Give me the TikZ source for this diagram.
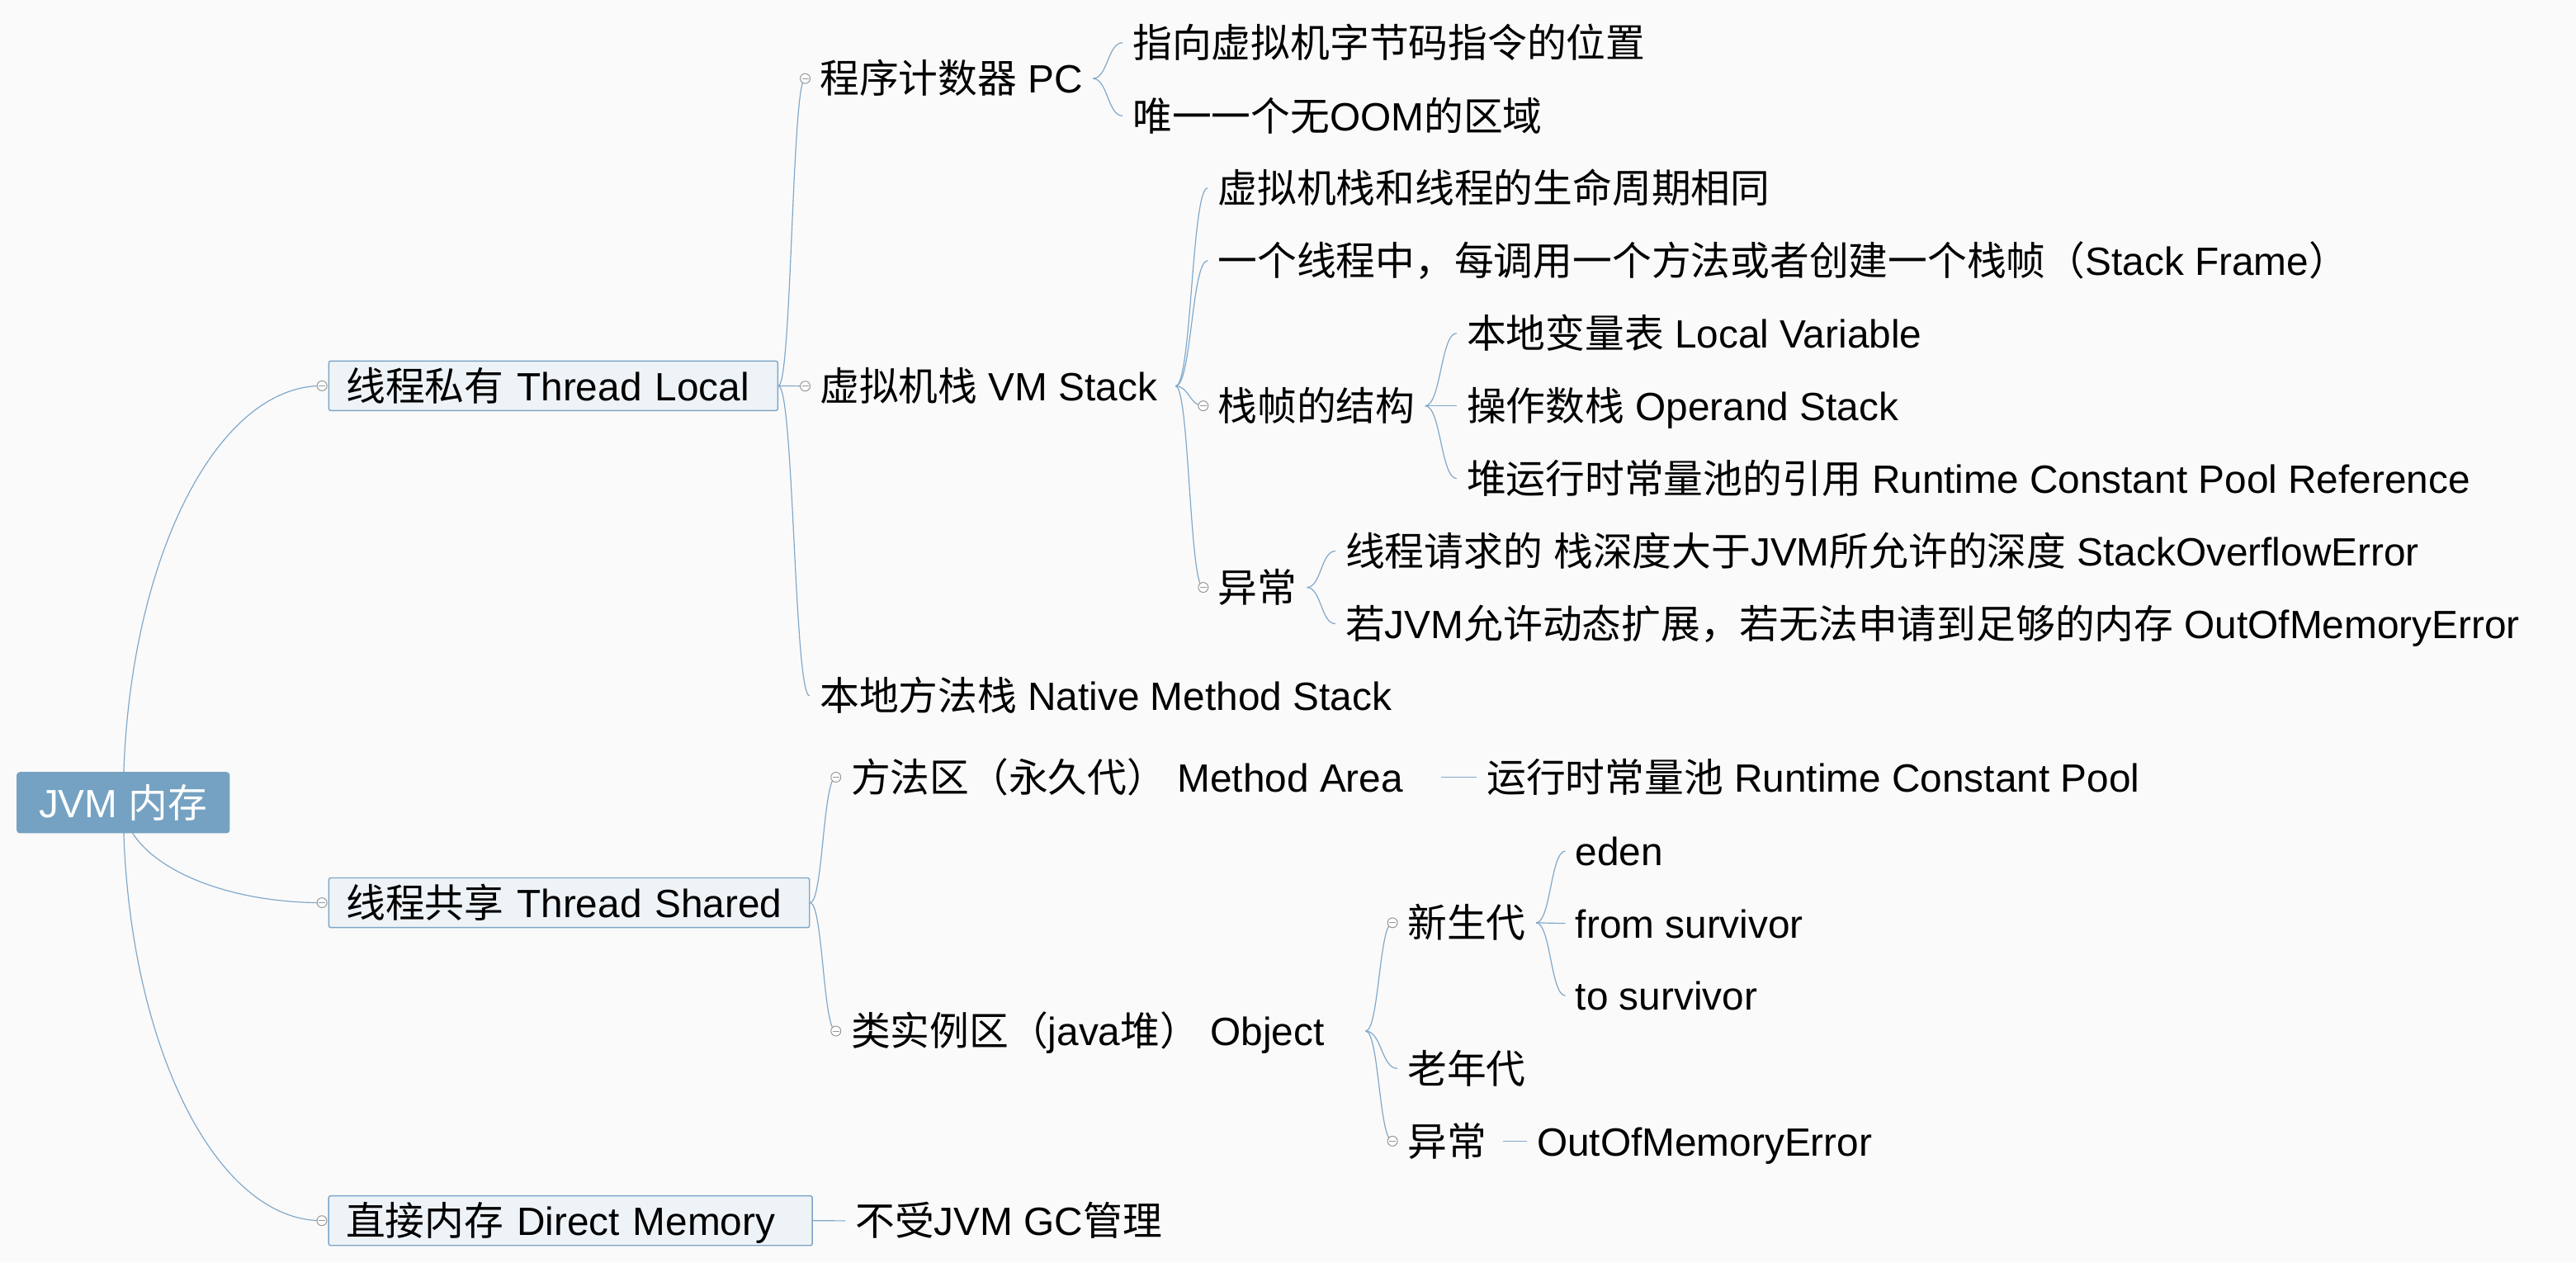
\documentclass[tikz,border=0pt]{standalone}
\usepackage{fontspec}
\setmainfont{Liberation Sans}
\newfontfamily\cjkf{Noto Sans CJK SC}
\usetikzlibrary{calc}
\newcommand\zh[1]{{\cjkf #1}}
\definecolor{bgc}{RGB}{250,250,250}
\definecolor{linec}{RGB}{128,168,202}
\definecolor{rootc}{RGB}{117,162,194}
\definecolor{boxf}{RGB}{238,243,247}
\definecolor{boxd}{RGB}{125,164,198}
\definecolor{circd}{RGB}{150,150,150}
\pgfdeclarelayer{back}
\pgfdeclarelayer{edges}
\pgfsetlayers{back,edges,main}
\tikzset{
  mmfont/.style={font=\fontsize{24}{28}\selectfont},
  txt/.style={mmfont, anchor=west, inner xsep=6pt, inner ysep=0pt, text height=21.8pt, text depth=4pt},
  branchbox/.style={mmfont, draw=boxd, fill=boxf, line width=0.7pt, rounded corners=1.2pt, anchor=west,
    inner xsep=10.5pt, inner ysep=0pt, minimum height=30.2pt, text height=21.8pt, text depth=4pt, align=left},
  rootbox/.style={mmfont, fill=rootc, text=white, rounded corners=2pt, minimum width=129.8pt,
    minimum height=37.3pt, inner sep=0pt, text height=21.8pt, text depth=4pt},
  collapse/.style={circle, draw=circd, fill=white, line width=0.5pt, minimum size=6pt, inner sep=0pt,
    path picture={\draw[circd, line width=0.5pt] ([xshift=-2pt]path picture bounding box.center) -- ([xshift=2pt]path picture bounding box.center);}},
  conn/.style={draw=linec, line width=0.6pt},
  ell/.style={to path={.. controls ($(\tikztostart)!0.552!(\tikztostart|-\tikztotarget)$) and ($(\tikztotarget)!0.552!(\tikztostart|-\tikztotarget)$) .. (\tikztotarget)}},
  sc/.style={to path={.. controls ($(\tikztostart)!0.5!(\tikztostart-|\tikztotarget)$) and ($(\tikztotarget)!0.5!(\tikztotarget-|\tikztostart)$) .. (\tikztotarget)}},
}
\begin{document}
\begin{tikzpicture}[x=1pt,y=-1pt]
\useasboundingbox (0,0) rectangle (1568,768.2);
\begin{pgfonlayer}{back}
\fill[bgc] (0,0) rectangle (1568,768.2);
\end{pgfonlayer}

% root
\node[rootbox] (root) at (75,488.5) {JVM \zh{内存}};

% level 1
\node[branchbox, text width=252.3pt] (tl) at (199.8,234.8) {\zh{线程私有} Thread Local};
\node[branchbox, text width=271.6pt] (ts) at (199.8,549.4) {\zh{线程共享} Thread Shared};
\node[branchbox, text width=273.4pt] (dm) at (199.7,742.9) {\zh{直接内存} Direct Memory};

% thread local subtree
\node[txt] (pc) at (492.8,47.8) {\zh{程序计数器} PC};
\node[txt] (pc1) at (683.3,26) {\zh{指向虚拟机字节码指令的位置}};
\node[txt] (pc2) at (683.3,70.5) {\zh{唯一一个无}OOM\zh{的区域}};
\node[txt] (vm) at (492.8,235) {\zh{虚拟机栈} VM Stack};
\node[txt] (vm1) at (735.1,114.4) {\zh{虚拟机栈和线程的生命周期相同}};
\node[txt] (vm2) at (735.1,158.6) {\zh{一个线程中，每调用一个方法或者创建一个栈帧（}Stack Frame\zh{）}};
\node[txt] (vm3) at (735.1,247) {\zh{栈帧的结构}};
\node[txt] (vm4) at (735.1,357.5) {\zh{异常}};
\node[txt] (sf1) at (886.6,202.8) {\zh{本地变量表} Local Variable};
\node[txt] (sf2) at (886.6,247) {\zh{操作数栈} Operand Stack};
\node[txt] (sf3) at (886.6,291.2) {\zh{堆运行时常量池的引用} Runtime Constant Pool Reference};
\node[txt] (ex1) at (812.8,335.4) {\zh{线程请求的} \zh{栈深度大于}JVM\zh{所允许的深度} StackOverflowError};
\node[txt] (ex2) at (812.8,379.6) {\zh{若}JVM\zh{允许动态扩展，若无法申请到足够的内存} OutOfMemoryError};
\node[txt] (nat) at (492.8,423.5) {\zh{本地方法栈} Native Method Stack};

% thread shared subtree
\node[txt] (ma) at (511.8,473) {\zh{方法区（永久代）} Method Area};
\node[txt] (rcp) at (898.8,473) {\zh{运行时常量池} Runtime Constant Pool};
\node[txt] (obj) at (511.8,627.5) {\zh{类实例区（}java\zh{堆）} Object};
\node[txt] (ng) at (850.6,561.6) {\zh{新生代}};
\node[txt] (og) at (850.6,650.3) {\zh{老年代}};
\node[txt] (ex3) at (850.6,694.5) {\zh{异常}};
\node[txt] (eden) at (952.8,518) {eden};
\node[txt] (fs) at (952.8,562) {from survivor};
\node[txt] (tsv) at (952.8,606) {to survivor};
\node[txt] (oom) at (929.3,694.5) {OutOfMemoryError};

% direct memory
\node[txt] (dmc) at (514.5,743) {\zh{不受}JVM GC\zh{管理}};

% collapse markers
\node[collapse] (ctl) at ([xshift=-3.8pt]tl.west) {};
\node[collapse] (cts) at ([xshift=-3.8pt]ts.west) {};
\node[collapse] (cdm) at ([xshift=-3.8pt]dm.west) {};
\node[collapse] (cpc) at ([xshift=-2.7pt]pc.west) {};
\node[collapse] (cvm) at ([xshift=-2.7pt]vm.west) {};
\node[collapse] (cvm3) at ([xshift=-2.7pt]vm3.west) {};
\node[collapse] (cvm4) at ([xshift=-2.7pt]vm4.west) {};
\node[collapse] (cma) at ([xshift=-3pt]ma.west) {};
\node[collapse] (cobj) at ([xshift=-3pt]obj.west) {};
\node[collapse] (cng) at ([xshift=-3pt]ng.west) {};
\node[collapse] (cex3) at ([xshift=-3pt]ex3.west) {};

\begin{pgfonlayer}{edges}
% root curves
\draw[conn] (root.center) to[ell] (ctl.center);
\draw[conn] (root.center) to[ell] (cts.center);
\draw[conn] (root.center) to[ell] (cdm.center);
% thread local
\draw[conn] (tl.east) to[sc] (cpc.center);
\draw[conn] (tl.east) -- (cvm.center);
\draw[conn] (tl.east) to[sc] (nat.west);
\draw[conn] (pc.east) to[sc] (pc1.west);
\draw[conn] (pc.east) to[sc] (pc2.west);
\draw[conn] ([xshift=5pt]vm.east) to[sc] (vm1.west);
\draw[conn] ([xshift=5pt]vm.east) to[sc] (vm2.west);
\draw[conn] ([xshift=5pt]vm.east) to[sc] (cvm3.center);
\draw[conn] ([xshift=5pt]vm.east) to[sc] (cvm4.center);
\draw[conn] (vm3.east) to[sc] (sf1.west);
\draw[conn] (vm3.east) to[sc] (sf2.west);
\draw[conn] (vm3.east) to[sc] (sf3.west);
\draw[conn] (vm4.east) to[sc] (ex1.west);
\draw[conn] (vm4.east) to[sc] (ex2.west);
% thread shared
\draw[conn] (ts.east) to[sc] (cma.center);
\draw[conn] (ts.east) to[sc] (cobj.center);
\draw[conn] ([xshift=17pt]ma.east) -- (rcp.west);
\draw[conn] ([xshift=19pt]obj.east) to[sc] (cng.center);
\draw[conn] ([xshift=19pt]obj.east) to[sc] (og.west);
\draw[conn] ([xshift=19pt]obj.east) to[sc] (cex3.center);
\draw[conn] (ng.east) to[sc] (eden.west);
\draw[conn] (ng.east) to[sc] (fs.west);
\draw[conn] (ng.east) to[sc] (tsv.west);
\draw[conn] ([xshift=4pt]ex3.east) -- (oom.west);
% direct memory
\draw[conn] (dm.east) -- (dmc.west);
\end{pgfonlayer}
\end{tikzpicture}
\end{document}
